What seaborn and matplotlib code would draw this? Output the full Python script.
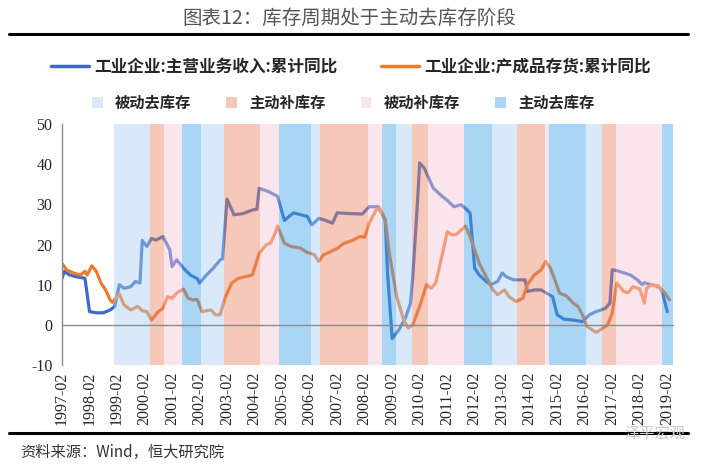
import matplotlib
matplotlib.use('Agg')
import matplotlib.pyplot as plt
import seaborn as sns
import pandas as pd
from matplotlib.lines import Line2D
from matplotlib.patches import Patch

# months counted from 1997-02
income_month = [0, 1, 3, 6, 10, 12, 15, 18, 21, 23, 25, 27, 30, 32, 34, 35, 37, 39, 41, 44,
                47, 48, 50, 53, 56, 59, 60, 63, 66, 69, 70, 72, 75, 79, 83, 85, 86, 90, 94, 97,
                101, 104, 107, 109, 112, 115, 118, 120, 125, 131, 134, 138, 141, 142, 144, 147,
                150, 152, 153, 155, 156, 158, 162, 166, 168, 171, 174, 176, 178, 180, 182, 185,
                187, 190, 192, 194, 197, 202, 203, 206, 209, 211, 214, 216, 219, 223, 227, 230,
                233, 237, 239, 240, 242, 248, 251, 253, 254, 257, 259, 261, 262, 264]
income_yoy = [11.6, 13.3, 12.5, 12.0, 11.6, 3.3, 3.0, 3.0, 3.7, 4.6, 10.0, 9.1, 9.5, 10.8, 10.4,
              21.0, 19.5, 21.5, 21.1, 22.0, 18.7, 14.5, 16.2, 14.1, 12.4, 11.5, 10.4, 12.4, 14.1,
              16.2, 16.4, 31.3, 27.4, 27.7, 28.6, 28.8, 34.0, 33.2, 32.0, 26.0, 27.9, 27.4, 27.0,
              24.9, 26.5, 26.0, 25.3, 27.9, 27.7, 27.6, 29.4, 29.4, 26.1, 13.0, -3.4, -1.2, 2.0,
              5.4, 12.0, 30.0, 40.3, 39.0, 34.0, 31.9, 31.0, 29.4, 29.9, 29.0, 27.8, 14.1, 12.4,
              10.8, 10.0, 10.8, 12.9, 11.9, 11.2, 11.2, 8.3, 8.7, 8.7, 8.0, 7.0, 2.5, 1.4, 1.2,
              0.8, 2.5, 3.3, 4.1, 5.4, 13.7, 13.5, 12.4, 11.2, 10.0, 10.5, 10.0, 9.7, 9.1, 7.9, 3.3]

stock_month = [0, 2, 5, 8, 10, 11, 13, 15, 17, 19, 21, 22, 25, 27, 30, 33, 35, 37, 39, 42, 44,
               46, 48, 50, 53, 55, 57, 59, 61, 65, 67, 69, 71, 74, 77, 80, 83, 86, 89, 91, 93, 94,
               97, 100, 104, 107, 110, 112, 114, 117, 120, 123, 127, 130, 132, 134, 137, 138, 140,
               141, 143, 146, 149, 151, 153, 156, 159, 161, 163, 166, 168, 170, 172, 176, 178, 180,
               182, 185, 188, 190, 193, 195, 198, 201, 203, 206, 209, 211, 213, 215, 217, 220, 223,
               225, 227, 229, 233, 238, 240, 242, 245, 247, 249, 252, 254, 255, 257, 260, 262, 263,
               265]
stock_yoy = [15.3, 13.7, 12.9, 12.4, 13.3, 12.4, 14.7, 13.3, 10.4, 8.7, 6.2, 5.6, 7.7, 5.0, 3.7,
             4.6, 3.5, 3.3, 1.2, 3.3, 4.1, 7.0, 6.6, 7.9, 8.9, 6.6, 6.2, 6.3, 3.3, 3.7, 2.5, 2.5,
             6.6, 10.4, 11.6, 12.0, 12.4, 17.8, 19.9, 20.4, 22.8, 24.6, 20.3, 19.5, 19.1, 18.0,
             17.5, 15.8, 17.4, 18.2, 19.0, 20.3, 21.1, 22.0, 21.8, 25.3, 28.6, 29.0, 27.5, 26.1,
             17.0, 7.0, 1.2, -0.8, 0.0, 4.6, 10.0, 9.1, 10.4, 17.8, 23.2, 22.4, 22.5, 24.6, 22.0,
             18.7, 15.3, 12.0, 8.7, 7.5, 8.7, 7.0, 5.8, 6.6, 10.0, 12.4, 13.7, 15.8, 14.1, 11.2,
             7.9, 7.2, 5.4, 4.6, 2.5, -0.4, -1.9, 0.0, 2.9, 10.4, 8.3, 8.0, 9.5, 9.0, 5.4, 9.1,
             10.0, 9.7, 8.5, 7.9, 6.2]

# inventory cycle phases (months from 1997-02)
phase_start = [22.5, 38.5, 44.5, 52.5, 60.5, 70.5, 86.5, 94.5, 108.5, 112.5, 133.5, 139.5,
               145.5, 152.5, 159.5, 175.5, 187.5, 198.5, 210.5, 212.5, 228.5, 235.5, 241.5, 261.5]
phase_end = phase_start[1:] + [266.5]
phase_order = ['被动去库存', '主动补库存', '被动补库存', '主动去库存']
phase_name = phase_order * 6

tick_labels = ['%d-02' % y for y in range(1997, 2020)]

income_label = '工业企业:主营业务收入:累计同比'
stock_label = '工业企业:产成品存货:累计同比'

phase_color = {'被动去库存': '#ADD0F2', '主动补库存': '#E98566',
               '被动补库存': '#F8C7D5', '主动去库存': '#42A4E9'}
band_alpha = 0.45

sns.set_style('white')
plt.rcParams['font.family'] = ['Noto Sans CJK SC', 'DejaVu Sans']
plt.rcParams['axes.unicode_minus'] = False

fig = plt.figure(figsize=(7.12, 4.66), dpi=100)
ax = fig.add_axes([0.0871, 0.2167, 0.8581, 0.5172])

income = pd.DataFrame({'month': income_month, 'yoy': income_yoy})
stock = pd.DataFrame({'month': stock_month, 'yoy': stock_yoy})
sns.lineplot(data=income, x='month', y='yoy', color='#3A6BC6', linewidth=2.3, ax=ax, zorder=1.8)
sns.lineplot(data=stock, x='month', y='yoy', color='#EE7A2E', linewidth=2.3, ax=ax, zorder=1.8)

for s, e, p in zip(phase_start, phase_end, phase_name):
    ax.axvspan(s, e, color=phase_color[p], alpha=band_alpha, lw=0, zorder=2.2)

# spine position first: moving it resets the ticks
for side in ['top', 'right']:
    ax.spines[side].set_visible(False)
ax.spines['bottom'].set_position(('data', 0))
for side in ['bottom', 'left']:
    ax.spines[side].set_color('#8c8c8c')
    ax.spines[side].set_linewidth(1.0)
    ax.spines[side].set_zorder(3)

ax.set_xlim(0, 266.5)
ax.set_ylim(-10, 50)
ax.set_yticks(range(-10, 51, 10))
ax.set_xticks(range(0, 265, 12))
ax.set_xticklabels(tick_labels)
ax.set_xlabel('')
ax.set_ylabel('')
ax.set_axisbelow(False)

ax.tick_params(axis='x', direction='out', length=4, color='#8c8c8c', pad=30, labelsize=11.5,
               labelrotation=90)
ax.tick_params(axis='y', direction='out', length=4, color='#8c8c8c', pad=3, labelsize=11.5)
for lbl in ax.get_xticklabels() + ax.get_yticklabels():
    lbl.set_fontfamily('Liberation Serif')

# legends
line_handles = [Line2D([], [], color='#3A6BC6', lw=2.5), Line2D([], [], color='#EE7A2E', lw=2.5)]
fig.legend(line_handles, [income_label, stock_label], loc='center', bbox_to_anchor=(0.493, 0.856),
           ncol=2, frameon=False, prop={'weight': 'bold', 'size': 12},
           handlelength=2.3, columnspacing=2.6, handletextpad=0.3)
patch_handles = [Patch(facecolor=phase_color[p], alpha=band_alpha, lw=0) for p in phase_order]
fig.legend(patch_handles, phase_order, loc='center', bbox_to_anchor=(0.482, 0.779),
           ncol=4, frameon=False, prop={'weight': 'bold', 'size': 11},
           handlelength=0.7, handleheight=0.7, columnspacing=2.3, handletextpad=0.8)

fig.text(0.49, 0.961, '图表12：库存周期处于主动去库存阶段', ha='center', va='center',
         fontsize=14, color='#555555')
fig.add_artist(Line2D([0.013, 0.966], [0.927, 0.927], color='black', lw=2.2,
                      transform=fig.transFigure))
fig.add_artist(Line2D([0.013, 0.966], [0.071, 0.071], color='black', lw=2.2,
                      transform=fig.transFigure))
fig.text(0.028, 0.030, '资料来源：Wind，恒大研究院', va='center', fontsize=11, color='#333333')
fig.text(0.92, 0.068, '泽平宏观', ha='center', va='center', fontsize=11, color='#c8c8c8')

fig.savefig('out.png', dpi=100)
